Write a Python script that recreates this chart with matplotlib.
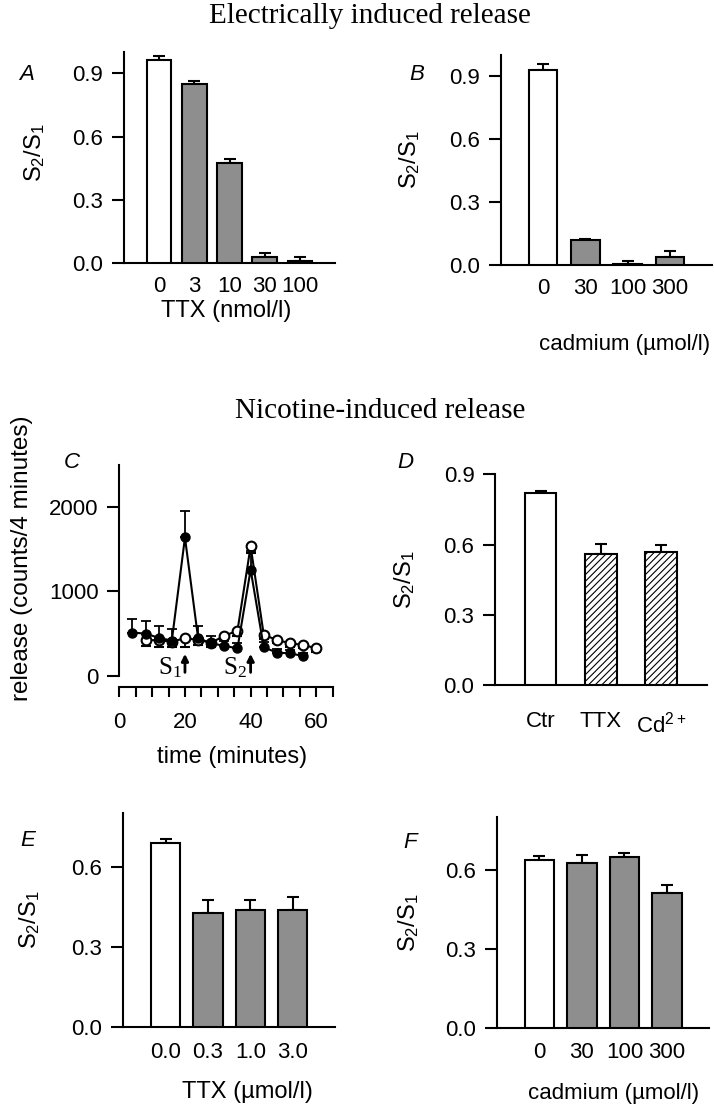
import numpy as np
import matplotlib
matplotlib.use('Agg')
import matplotlib.pyplot as plt

plt.rcParams['font.family'] = ['Liberation Sans', 'DejaVu Sans']
plt.rcParams['hatch.linewidth'] = 0.8

W, H = 714, 1112

# panel A: electrically induced, TTX
A_labels = ['0', '3', '10', '30', '100']
A_vals = [0.962, 0.849, 0.474, 0.032, 0.013]
A_err = [0.022, 0.016, 0.020, 0.016, 0.019]

# panel B: electrically induced, cadmium
B_labels = ['0', '30', '100', '300']
B_vals = [0.927, 0.119, 0.005, 0.040]
B_err = [0.032, 0.007, 0.016, 0.027]

# panel C: nicotine time course
t_filled = [4, 8, 12, 16, 20, 24, 28, 32, 36, 40, 44, 48, 52, 56]
rel_filled = [512, 500, 450, 417, 1640, 445, 385, 354, 326, 1258, 338, 274, 266, 234]
err_filled = [165, 150, 140, 140, 310, 140, 90, 60, 60, 220, 60, 40, 40, 40]
t_open = [8, 12, 16, 20, 24, 28, 32, 36, 40, 44, 48, 52, 56, 60]
rel_open = [425, 420, 405, 445, 425, 393, 473, 536, 1536, 485, 425, 385, 365, 326]
err_open = [70, 80, 60, 100, 60, 50, 40, 60, 80, 50, 40, 40, 40, 40]

# panel D: nicotine, Ctr / TTX / Cd
D_labels = ['Ctr', 'TTX', r'Cd$\mathregular{^{2+}}$']
D_vals = [0.821, 0.558, 0.567]
D_err = [0.009, 0.043, 0.031]

# panel E: nicotine, TTX
E_labels = ['0.0', '0.3', '1.0', '3.0']
E_vals = [0.688, 0.428, 0.438, 0.438]
E_err = [0.016, 0.047, 0.037, 0.050]

# panel F: nicotine, cadmium
F_labels = ['0', '30', '100', '300']
F_vals = [0.635, 0.625, 0.646, 0.512]
F_err = [0.015, 0.029, 0.016, 0.028]

GRAY = '#8e8e8e'
S2S1 = r'$\mathregular{S_2/S_1}$'
TICK_FS = 16
LAB_FS = 17


def fx(x):
    return x / W


def fy(y):
    return 1 - y / H


def add_ax(fig, left, top, right, bottom):
    # pixel box -> figure fraction
    return fig.add_axes([fx(left), fy(bottom), (right - left) / W, (bottom - top) / H])


def style_ax(ax):
    for s in ['top', 'right']:
        ax.spines[s].set_visible(False)
    for s in ['left', 'bottom']:
        ax.spines[s].set_linewidth(1.5)
    ax.tick_params(axis='y', direction='out', length=9, width=1.5, labelsize=TICK_FS, pad=6)


def bar_panel(fig, box, labels, vals, errs, faces, hatches, width, xlim, ylim, yticks,
              letter_xy, letter, ylab_xy, xlabel=None, xlab_xy=None, pad=10, xlab_fs=LAB_FS):
    ax = add_ax(fig, *box)
    style_ax(ax)
    x = np.arange(len(vals))
    ax.bar(x, vals, width=width, color=faces, edgecolor='k', linewidth=1.5,
           hatch=hatches, zorder=3)
    ax.errorbar(x, vals, yerr=[np.zeros(len(errs)), errs], fmt='none', ecolor='k',
                elinewidth=1.5, capsize=4.5, capthick=1.5, zorder=2)
    ax.set_xlim(*xlim)
    ax.set_ylim(*ylim)
    ax.set_yticks(yticks)
    ax.set_yticklabels(['%.1f' % v for v in yticks])
    ax.set_xticks(x)
    ax.set_xticklabels(labels)
    ax.tick_params(axis='x', length=0, labelsize=TICK_FS, pad=pad)
    ax.set_ylabel(S2S1, fontsize=LAB_FS, va='center', ha='center')
    ax.yaxis.set_label_coords(fx(ylab_xy[0]), fy(ylab_xy[1]), transform=fig.transFigure)
    if xlabel:
        ax.set_xlabel(xlabel, fontsize=xlab_fs, va='center', ha='center')
        ax.xaxis.set_label_coords(fx(xlab_xy[0]), fy(xlab_xy[1]), transform=fig.transFigure)
    fig.text(fx(letter_xy[0]), fy(letter_xy[1]), letter, fontsize=16, style='italic',
             ha='center', va='center')
    return ax


fig = plt.figure(figsize=(W / 100, H / 100), dpi=100)

fig.text(fx(370), fy(16), 'Electrically induced release', family='Liberation Serif',
         fontsize=21, ha='center', va='center')
fig.text(fx(380), fy(411), 'Nicotine-induced release', family='Liberation Serif',
         fontsize=21, ha='center', va='center')

bar_panel(fig, (124, 52.3, 335, 263.3), A_labels, A_vals, A_err,
          ['white'] + [GRAY] * 4, None, 0.7, (-1, 5), (0, 1.0), [0, 0.3, 0.6, 0.9],
          (27, 74), 'A', (35, 153), 'TTX (nmol/l)', (226, 311), pad=9)

bar_panel(fig, (501, 55, 712, 265), B_labels, B_vals, B_err,
          ['white'] + [GRAY] * 3, None, 0.675, (-1, 4), (0, 1.0), [0, 0.3, 0.6, 0.9],
          (417, 75), 'B', (410, 160), 'cadmium (\u00b5mol/l)', (625, 344), pad=9, xlab_fs=16)

bar_panel(fig, (495.3, 474.3, 707, 685), D_labels, D_vals, D_err,
          ['white'] * 3, [None, '/////', '/////'], 0.525, (-0.75, 2.76), (0, 0.9),
          [0, 0.3, 0.6, 0.9], (405, 462), 'D', (405, 580), pad=19)

bar_panel(fig, (123.3, 813.3, 335, 1026.7), E_labels, E_vals, E_err,
          ['white'] + [GRAY] * 3, None, 0.69, (-1, 4), (0, 0.8), [0, 0.3, 0.6],
          (28, 840), 'E', (30, 920), 'TTX (\u00b5mol/l)', (247, 1092), pad=11)

bar_panel(fig, (497, 816.7, 709.3, 1028.3), F_labels, F_vals, F_err,
          ['white'] + [GRAY] * 3, None, 0.7, (-1, 4), (0, 0.8), [0, 0.3, 0.6],
          (410, 842), 'F', (409, 923), 'cadmium (\u00b5mol/l)', (614, 1093), pad=10, xlab_fs=16)

# panel C
axC = add_ax(fig, 119.3, 465, 332.7, 686.7)
style_ax(axC)
axC.errorbar(t_open, rel_open, yerr=[err_open, np.zeros(len(err_open))], fmt='-o',
             color='k', mfc='white', mec='k', ms=7, mew=1.5, lw=1.5,
             elinewidth=1.3, capsize=3.5, capthick=1.3, zorder=3)
axC.errorbar(t_filled, rel_filled, yerr=[np.zeros(len(err_filled)), err_filled], fmt='-o',
             color='k', mfc='k', mec='k', ms=6.5, lw=1.5,
             elinewidth=1.3, capsize=3.5, capthick=1.3, zorder=4)
axC.set_xlim(0, 65)
axC.set_ylim(-130, 2500)
axC.spines['left'].set_bounds(0, 2500)
axC.spines['bottom'].set_bounds(0, 65)
axC.set_yticks([0, 1000, 2000])
axC.set_xticks([0, 20, 40, 60])
axC.set_xticks(np.arange(0, 66, 5), minor=True)
axC.tick_params(axis='x', which='both', direction='out', length=7, width=1.5,
                labelsize=TICK_FS, pad=11)
axC.set_ylabel('release (counts/4 minutes)', fontsize=LAB_FS + 0.5, va='center', ha='center')
axC.yaxis.set_label_coords(fx(22), fy(558), transform=fig.transFigure)
axC.set_xlabel('time (minutes)', fontsize=LAB_FS, va='center', ha='center')
axC.xaxis.set_label_coords(fx(232), fy(757), transform=fig.transFigure)
for tx, lab, lx in [(20, r'$\mathregular{S_1}$', 15.3), (40, r'$\mathregular{S_2}$', 35.3)]:
    axC.annotate('', xy=(tx, 260), xytext=(tx, 40),
                 arrowprops=dict(arrowstyle='-|>', color='k', lw=2, mutation_scale=10,
                                 shrinkA=0, shrinkB=0))
    axC.text(lx, 95, lab, family='Liberation Serif', fontsize=18, ha='center', va='center')
fig.text(fx(72), fy(462), 'C', fontsize=16, style='italic', ha='center', va='center')

fig.savefig('out.png', dpi=100)
